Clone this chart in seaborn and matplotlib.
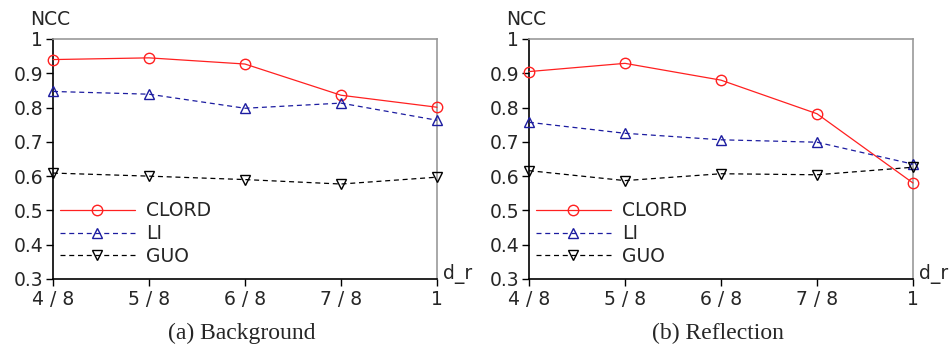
import matplotlib
matplotlib.use("Agg")
import matplotlib.pyplot as plt
import seaborn as sns
import pandas as pd

x_labels = ["4 / 8", "5 / 8", "6 / 8", "7 / 8", "1"]
methods = ["CLORD", "LI", "GUO"]

bg_clord = [0.940, 0.945, 0.927, 0.836, 0.801]
bg_li = [0.847, 0.839, 0.798, 0.813, 0.763]
bg_guo = [0.609, 0.600, 0.590, 0.577, 0.597]

rf_clord = [0.905, 0.929, 0.880, 0.782, 0.580]
rf_li = [0.757, 0.725, 0.706, 0.699, 0.635]
rf_guo = [0.616, 0.587, 0.607, 0.604, 0.626]

captions = ["(a) Background", "(b) Reflection"]
y_ticks = [0.3, 0.4, 0.5, 0.6, 0.7, 0.8, 0.9, 1.0]
y_tick_labels = ["0.3", "0.4", "0.5", "0.6", "0.7", "0.8", "0.9", "1"]

sns.set_theme(style="white")
plt.rcParams["font.family"] = ["DejaVu Sans"]

colors = {"CLORD": "#ff2020", "LI": "#1c1ca0", "GUO": "#000000"}
markers = {"CLORD": "o", "LI": "^", "GUO": "v"}
dashes = {"CLORD": "", "LI": (4, 3), "GUO": (4, 3)}

fig = plt.figure(figsize=(9.49, 3.45), dpi=100)
ax_pos = [
    [53 / 949, 1 - 279 / 345, 384 / 949, 240 / 345],
    [529 / 949, 1 - 279 / 345, 384 / 949, 240 / 345],
]

def make_df(c, l, g):
    rows = []
    for m, vals in zip(methods, [c, l, g]):
        for i, v in enumerate(vals):
            rows.append({"x": i, "NCC": v, "method": m})
    return pd.DataFrame(rows)

dfs = [make_df(bg_clord, bg_li, bg_guo), make_df(rf_clord, rf_li, rf_guo)]

FS = 13.5

for k in range(2):
    ax = fig.add_axes(ax_pos[k])
    df = dfs[k]
    sns.lineplot(data=df, x="x", y="NCC", hue="method", style="method",
                 palette=colors, markers=markers, dashes=dashes,
                 hue_order=methods, style_order=methods,
                 markersize=7.5, markerfacecolor="none", markeredgewidth=1.0,
                 linewidth=0.9, ax=ax, legend=True)
    for line in ax.lines:
        line.set_markerfacecolor("none")
        line.set_markeredgecolor(line.get_color())
        line.set_clip_on(False)
        line.set_zorder(5)
    ax.set_xlim(0, 4)
    ax.set_ylim(0.3, 1.0)
    ax.set_xticks(range(5))
    ax.set_xticklabels(x_labels, fontsize=FS)
    ax.set_yticks(y_ticks)
    ax.set_yticklabels(y_tick_labels, fontsize=FS)
    ax.set_xlabel("")
    ax.set_ylabel("")
    ax.tick_params(axis="both", direction="out", length=5, width=1, color="black",
                   pad=2, left=True, bottom=True)
    ax.tick_params(axis="x", pad=3)
    for s in ["left", "bottom"]:
        ax.spines[s].set_color("black")
        ax.spines[s].set_linewidth(1.2)
    for s in ["top", "right"]:
        ax.spines[s].set_color("#999999")
        ax.spines[s].set_linewidth(1.2)
    ax.text(-0.008, 1.083, "NCC", transform=ax.transAxes, fontsize=FS,
            ha="center", va="center")
    ax.text(1.015, 0.02, "d_r", transform=ax.transAxes, fontsize=FS,
            ha="left", va="center")
    handles, labels = ax.get_legend_handles_labels()
    for h in handles:
        h.set_markerfacecolor("none")
    ax.legend(handles=handles, labels=labels, loc="lower left",
              bbox_to_anchor=(-0.016, 0.0), frameon=False, fontsize=FS,
              handlelength=4.0, handletextpad=0.6, labelspacing=0.2,
              borderaxespad=0.3)
    fig.text(ax_pos[k][0] + ax_pos[k][2] / 2 - 3 / 949, 1 - 333 / 345, captions[k],
             fontsize=17, family="Liberation Serif", ha="center", va="center")

fig.savefig("out.png", dpi=100)
